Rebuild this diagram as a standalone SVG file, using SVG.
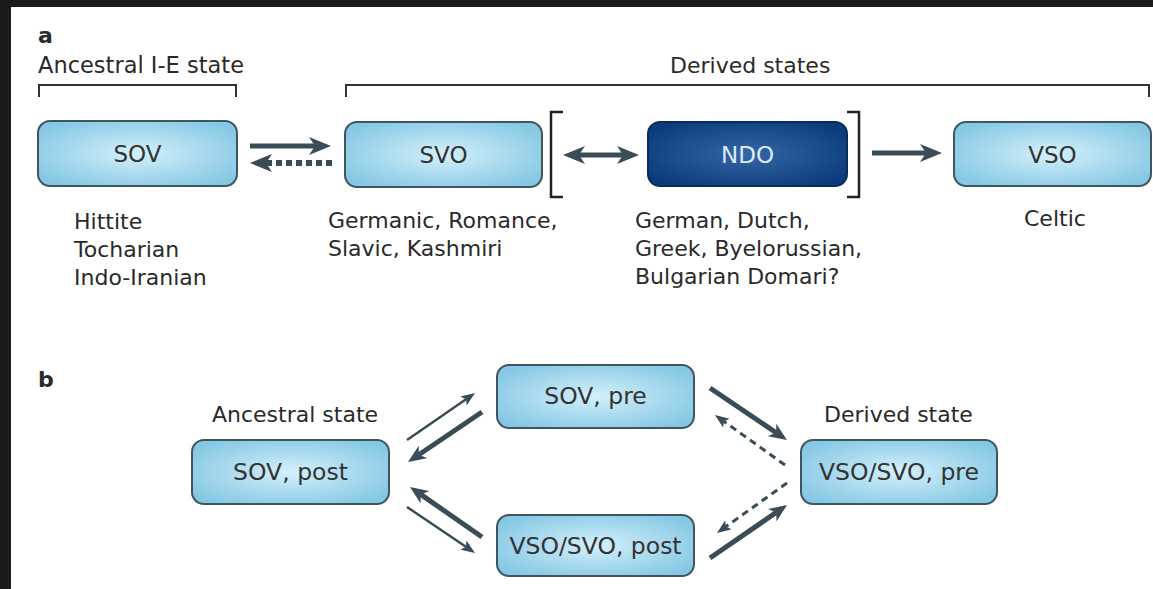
<svg xmlns="http://www.w3.org/2000/svg" width="1153" height="589" viewBox="0 0 1153 589">
<style>
  .t { font-family: "DejaVu Sans", "Liberation Sans", sans-serif; fill: #2a2a2a; font-size: 22px; }
  .wide { font-size: 22.5px; }
  .lbl { font-family: "DejaVu Sans", "Liberation Sans", sans-serif; fill: #333; text-anchor: middle; }
  .la { font-size: 23px; }
  .lb { font-size: 23.5px; }
  .bold { font-weight: bold; font-size: 22px; }
  .box { fill: url(#lightg); stroke: #3f555f; stroke-width: 2; }
  .dark { fill: url(#darkg); stroke: #0a2c5c; stroke-width: 2; }
  .br { fill: none; stroke: #333; stroke-width: 2; }
  .sq { fill: none; stroke: #222; stroke-width: 2.5; }
  .thick { fill: none; stroke: #3a4c55; stroke-width: 5; }
  .thin { fill: none; stroke: #3a4c55; stroke-width: 2.5; }
  .dash { fill: none; stroke: #3a4c55; stroke-width: 3; stroke-dasharray: 7 5; }
  .dashsq { fill: none; stroke: #3a4c55; stroke-width: 6; stroke-dasharray: 6 4; }
</style>
<defs>
  <radialGradient id="lightg" cx="0.5" cy="0.5" r="0.6">
    <stop offset="0" stop-color="#d3f0fb"/>
    <stop offset="1" stop-color="#86c8e4"/>
  </radialGradient>
  <radialGradient id="darkg" cx="0.5" cy="0.5" r="0.6">
    <stop offset="0" stop-color="#3467a8"/>
    <stop offset="1" stop-color="#0b3b7a"/>
  </radialGradient>
  <marker id="big" markerUnits="userSpaceOnUse" markerWidth="22" markerHeight="18" viewBox="0 0 22 18" refX="6" refY="9" orient="auto-start-reverse">
    <path d="M0,0 L22,9 L0,18 L6,9 z" fill="#3a4c55"/>
  </marker>
  <marker id="mid" markerUnits="userSpaceOnUse" markerWidth="18" markerHeight="15" viewBox="0 0 18 15" refX="5" refY="7.5" orient="auto">
    <path d="M0,0 L18,7.5 L0,15 L5,7.5 z" fill="#3a4c55"/>
  </marker>
  <marker id="small" markerUnits="userSpaceOnUse" markerWidth="14" markerHeight="11" viewBox="0 0 14 11" refX="3" refY="5.5" orient="auto">
    <path d="M0,0 L14,5.5 L0,11 L3,5.5 z" fill="#3a4c55"/>
  </marker>
</defs>
<rect x="0" y="0" width="1153" height="589" fill="#1b1b1b"/>
<rect x="11" y="7" width="1142" height="582" fill="#ffffff"/>

<!-- Panel a labels -->
<text class="t bold" x="38" y="43">a</text>
<text class="t wide" x="38" y="73">Ancestral I-E state</text>
<text class="t" x="670" y="73">Derived states</text>
<path class="br" d="M39,97 V85 H236 V97"/>
<path class="br" d="M346,97 V85 H1149 V97"/>

<!-- Panel a nodes -->
<g id="sov">
  <rect class="box" x="38" y="121" width="199" height="65" rx="12"/>
  <text class="lbl la" x="137.5" y="162">SOV</text>
</g>
<g id="svo">
  <rect class="box" x="345" y="122" width="197" height="65" rx="12"/>
  <text class="lbl la" x="443.5" y="163">SVO</text>
</g>
<g id="ndo">
  <rect class="dark" x="648" y="122" width="199" height="64" rx="12"/>
  <text class="lbl la" x="747.5" y="163" style="fill:#dde9f6">NDO</text>
</g>
<g id="vso">
  <rect class="box" x="954" y="122" width="197" height="64" rx="12"/>
  <text class="lbl la" x="1052.5" y="163">VSO</text>
</g>
<g id="ndo-bracket">
  <path class="sq" d="M563,112 H551 V197 H563"/>
  <path class="sq" d="M847,112 H859 V197 H847"/>
</g>

<!-- Panel a texts -->
<g id="sov-langs">
  <text class="t" x="74" y="229">Hittite</text>
  <text class="t" x="74" y="257">Tocharian</text>
  <text class="t" x="74" y="285">Indo-Iranian</text>
</g>
<g id="svo-langs">
  <text class="t" x="328" y="228">Germanic, Romance,</text>
  <text class="t" x="328" y="256">Slavic, Kashmiri</text>
</g>
<g id="ndo-langs">
  <text class="t" x="635" y="228">German, Dutch,</text>
  <text class="t" x="635" y="256">Greek, Byelorussian,</text>
  <text class="t" x="635" y="284">Bulgarian Domari?</text>
</g>
<g id="vso-langs">
  <text class="t" x="1024" y="226">Celtic</text>
</g>

<!-- Panel b -->
<text class="t bold" x="38" y="387">b</text>
<text class="t" x="212" y="422">Ancestral state</text>
<text class="t" x="824" y="422">Derived state</text>

<g id="sov-post">
  <rect class="box" x="192" y="440" width="197" height="64" rx="12"/>
  <text class="lbl lb" x="290.5" y="480">SOV, post</text>
</g>
<g id="sov-pre">
  <rect class="box" x="497" y="365" width="197" height="63" rx="12"/>
  <text class="lbl lb" x="595.5" y="404">SOV, pre</text>
</g>
<g id="vsosvo-post">
  <rect class="box" x="497" y="515" width="197" height="61" rx="12"/>
  <text class="lbl lb" x="595.5" y="554">VSO/SVO, post</text>
</g>
<g id="vsosvo-pre">
  <rect class="box" x="801" y="440" width="196" height="64" rx="12"/>
  <text class="lbl lb" x="899" y="480">VSO/SVO, pre</text>
</g>

<!-- Connectors -->
<g id="connectors">
  <path class="thick" d="M250,146 H315" marker-end="url(#big)"/>
  <path class="dashsq" d="M332,163 H266" marker-end="url(#big)"/>
  <path class="thick" d="M579,155 H623" marker-start="url(#big)" marker-end="url(#big)"/>
  <path class="thick" d="M872,153 H926" marker-end="url(#big)"/>

  <path class="thin" d="M407,440 L466,399.2" marker-end="url(#small)"/>
  <path class="thick" d="M482,412 L418.8,454.7" marker-end="url(#mid)"/>
  <path class="thick" d="M482,537 L420.7,494.4" marker-end="url(#mid)"/>
  <path class="thin" d="M407,507 L465.9,546.8" marker-end="url(#small)"/>
  <path class="thick" d="M710,388 L776.2,432.7" marker-end="url(#mid)"/>
  <path class="dash" d="M785,465 L723.9,421.4" marker-end="url(#small)"/>
  <path class="dash" d="M787,483 L725.9,526.6" marker-end="url(#small)"/>
  <path class="thick" d="M710,558 L776.3,512.4" marker-end="url(#mid)"/>
</g>
</svg>
